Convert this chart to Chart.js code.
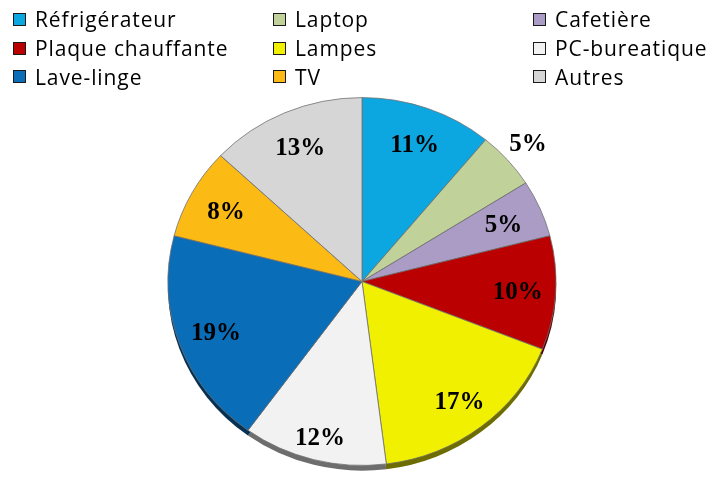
<!DOCTYPE html>
<html>
<head>
<meta charset="utf-8">
<script src="https://cdn.jsdelivr.net/npm/chart.js@4.4.1/dist/chart.umd.min.js"></script>
<style>
  html, body { margin: 0; padding: 0; background: #fff; }
  #wrap { position: relative; width: 713px; height: 477px; overflow: hidden; }
  #pie { position: absolute; left: 0; top: 0; }
  #legend {
    position: absolute; left: 13px; top: 5px;
    display: grid;
    grid-template-columns: 260px 260px auto;
    grid-auto-rows: 28.75px;
    font-family: "Open Sans", sans-serif;
    font-size: 21px;
    letter-spacing: 0.9px;
    color: #000;
  }
  .item { display: flex; align-items: center; white-space: nowrap; }
  .box { width: 11px; height: 11px; border: 1px solid #1a1a1a; margin-right: 9px; flex: none; }
</style>
</head>
<body>
<div id="wrap">
  <canvas id="pie" width="713" height="477"></canvas>
  <div id="legend"></div>
</div>
<script>
// Répartition de la consommation par appareil (en %)
const categories = ['Réfrigérateur', 'Laptop', 'Cafetière', 'Plaque chauffante', 'Lampes',
                    'PC-bureatique', 'Lave-linge', 'TV', 'Autres'];
const shares = [11, 5, 5, 10, 17, 12, 19, 8, 13];
const sliceColors = ['#0CA7E0', '#C0D29A', '#AB9CC5', '#BA0000', '#F0F000',
                     '#F2F2F2', '#0A6DB8', '#FBBA14', '#D6D6D6'];

// Legend entries in a three-column grid (row by row)
const legendEl = document.getElementById('legend');
categories.forEach((name, i) => {
  const item = document.createElement('div');
  item.className = 'item';
  const box = document.createElement('span');
  box.className = 'box';
  box.style.background = sliceColors[i];
  const txt = document.createElement('span');
  txt.textContent = name;
  item.appendChild(box);
  item.appendChild(txt);
  legendEl.appendChild(item);
});

// Darker tone for the visible rim of the tilted disc
function shade(hex, k) {
  const n = parseInt(hex.slice(1), 16);
  const r = Math.round(((n >> 16) & 255) * k);
  const g = Math.round(((n >> 8) & 255) * k);
  const b = Math.round((n & 255) * k);
  return `rgb(${r},${g},${b})`;
}
const rimColors = sliceColors.map(c => shade(c, 0.45));

const squash = 0.948;   // vertical flattening of the disc
const depth = 5.5;      // rim thickness
// radial placement of each percentage label, as a fraction of the radius
const labelRadius = [0.80, 1.14, 0.795, 0.805, 0.82, 0.87, 0.80, 0.80, 0.80];

const tiltedPie = {
  id: 'tiltedPie',
  beforeDatasetsDraw(chart) {
    const ctx = chart.ctx;
    const arcs = chart.getDatasetMeta(0).data;
    const cx = arcs[0].x, cy = arcs[0].y;
    ctx.save();
    ctx.translate(cx, cy);
    ctx.scale(1, squash);
    ctx.translate(-cx, -cy);
    arcs.forEach((arc, i) => {
      ctx.beginPath();
      ctx.moveTo(arc.x, arc.y + depth);
      ctx.arc(arc.x, arc.y + depth, arc.outerRadius, arc.startAngle, arc.endAngle);
      ctx.closePath();
      ctx.fillStyle = rimColors[i];
      ctx.fill();
    });
  },
  afterDatasetsDraw(chart) {
    const ctx = chart.ctx;
    ctx.restore();
    const arcs = chart.getDatasetMeta(0).data;
    const values = chart.data.datasets[0].data;
    ctx.save();
    ctx.font = 'bold 25px "Liberation Serif", "Times New Roman", serif';
    ctx.fillStyle = '#000';
    ctx.textAlign = 'center';
    ctx.textBaseline = 'alphabetic';
    arcs.forEach((arc, i) => {
      const mid = (arc.startAngle + arc.endAngle) / 2;
      const r = arc.outerRadius * labelRadius[i];
      const x = arc.x + Math.cos(mid) * r;
      const y = arc.y + Math.sin(mid) * r * squash;
      ctx.fillText(values[i] + '%', x, y + 8.5);
    });
    ctx.restore();
  }
};

new Chart(document.getElementById('pie'), {
  type: 'pie',
  data: {
    labels: categories,
    datasets: [{
      data: shares,
      backgroundColor: sliceColors,
      borderColor: '#707070',
      borderWidth: 0.8
    }]
  },
  options: {
    responsive: false,
    animation: false,
    events: [],
    radius: 194,
    layout: { padding: { left: 168, right: 157, top: 87.5, bottom: 1.5 } },
    plugins: {
      legend: { display: false },
      tooltip: { enabled: false }
    }
  },
  plugins: [tiltedPie]
});
</script>
</body>
</html>
